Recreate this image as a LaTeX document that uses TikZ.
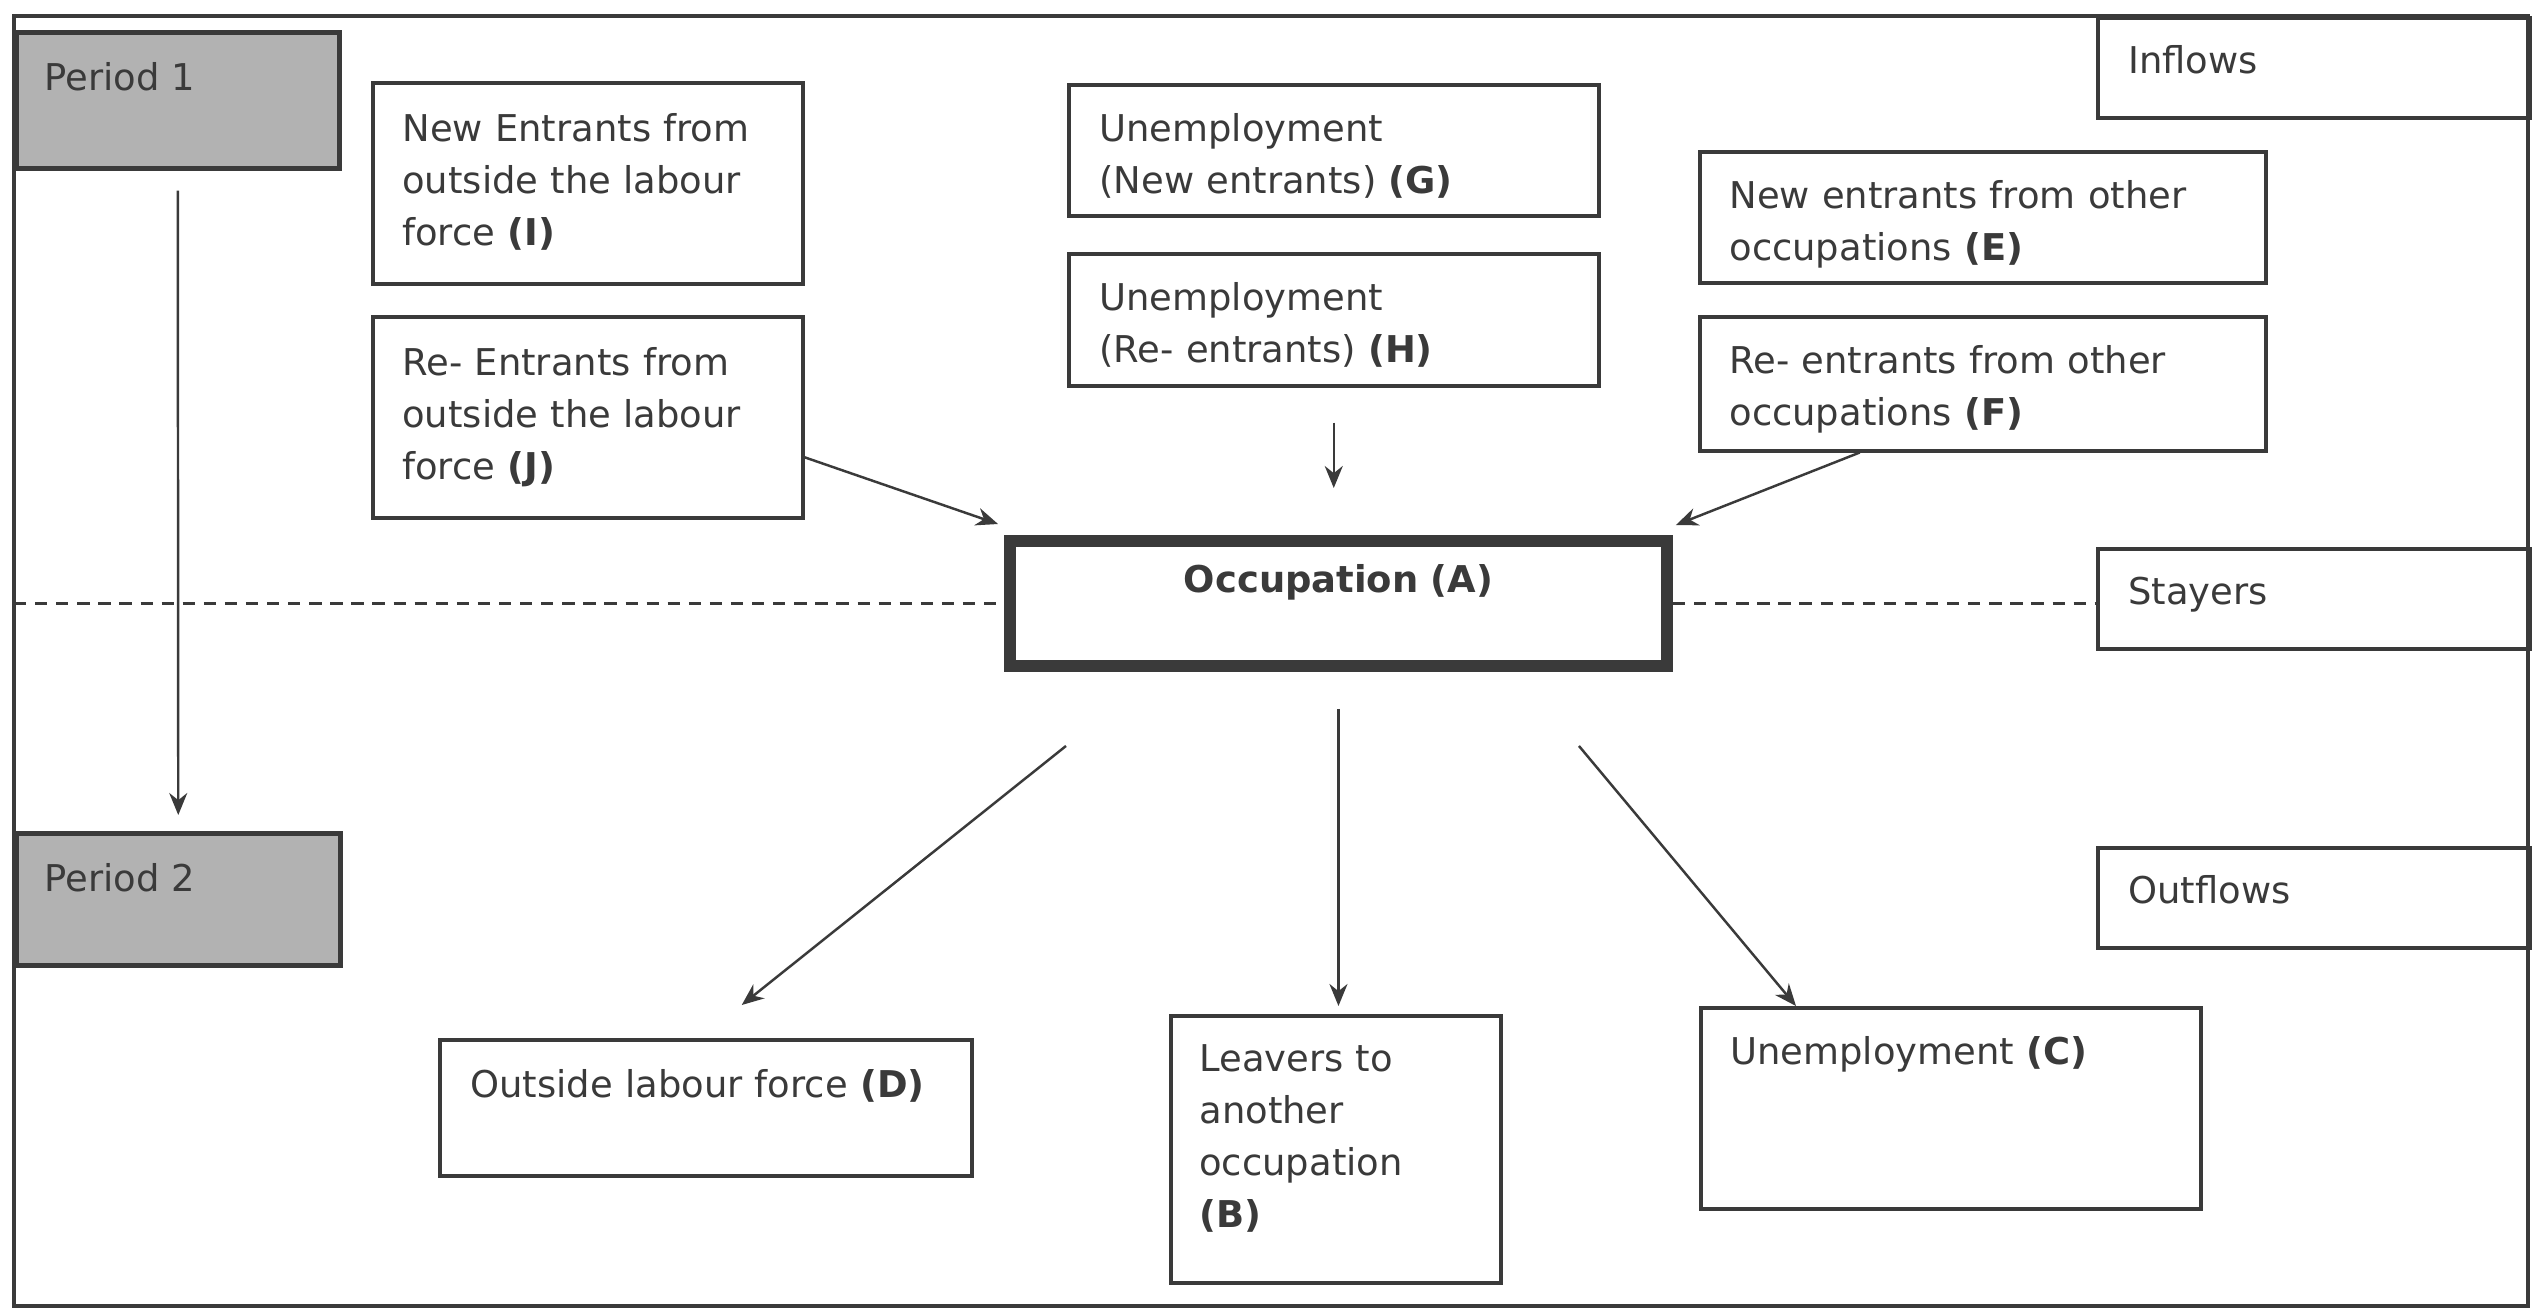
\documentclass[tikz,border=0pt]{standalone}
\usepackage{fontspec}
\setmainfont{DejaVu Sans}
\usetikzlibrary{calc,arrows.meta}
\definecolor{ink}{HTML}{3A3A3A}

\begin{document}
\begin{tikzpicture}[line width=0.8pt,
	box/.style={draw=ink, line width=1pt, anchor=north west, inner sep=0pt},
	period/.style={box, fill=gray!60, line width=1.3pt},
	txt/.style={anchor=base west, inner sep=0pt, text=ink, align=left, text width=6cm,
		font=\fontsize{10.5pt}{14.8pt}\selectfont},
	ctxt/.style={txt, anchor=base, align=center},
	flow/.style={draw=ink, line width=0.7pt, -{Stealth[length=2.2mm,width=1.8mm]}},
	stayline/.style={draw=ink, line width=0.8pt, dash pattern=on 3.5pt off 2.5pt}]

\useasboundingbox (0,0) rectangle (25.42,-13.10);
\fill[white] (0,0) rectangle (25.42,-13.10);

%frame
\draw[ink, line width=0.9pt] (0.14,-0.16) rectangle (25.28,-13.06);

%periods
\node[period, minimum width=3.23cm, minimum height=1.36cm] (P1) at (0.14,-0.30) {};
\node[txt] (P1t) at ($(P1.north west)+(0.29,-0.60)$) {Period 1};
\node[period, minimum width=3.24cm, minimum height=1.32cm] (P2) at (0.14,-8.31) {};
\node[txt] (P2t) at ($(P2.north west)+(0.29,-0.60)$) {Period 2};
\draw[flow, shorten <=0.2cm, shorten >=0.16cm] (P1.south) -- (P2.north);

%right column
\foreach \n/\y/\t in {inflow/0.16/Inflows, stay/5.47/Stayers, outflow/8.46/Outflows}{
	\node[box, minimum width=4.32cm, minimum height=1.0cm] (\n) at (20.96,-\y) {};
	\node[txt] (\n-t) at ($(\n.north west)+(0.31,-0.57)$) {\t};
}

%inflows
\node[box, minimum width=4.30cm, minimum height=2.01cm] (I) at (3.71,-0.81) {};
\node[txt] (I-t) at ($(I.north west)+(0.30,-0.60)$) {New Entrants from\\outside the labour\\force \textbf{(I)}};

\node[box, minimum width=4.30cm, minimum height=2.01cm] (J) at (3.71,-3.15) {};
\node[txt] (J-t) at ($(J.north west)+(0.30,-0.60)$) {Re- Entrants from\\outside the labour\\force \textbf{(J)}};

\node[box, minimum width=5.30cm, minimum height=1.31cm] (G) at (10.67,-0.83) {};
\node[txt] (G-t) at ($(G.north west)+(0.31,-0.58)$) {Unemployment\\(New entrants) \textbf{(G)}};

\node[box, minimum width=5.30cm, minimum height=1.32cm] (H) at (10.67,-2.52) {};
\node[txt] (H-t) at ($(H.north west)+(0.31,-0.58)$) {Unemployment\\(Re- entrants) \textbf{(H)}};

\node[box, minimum width=5.66cm, minimum height=1.31cm] (E) at (16.98,-1.50) {};
\node[txt] (E-t) at ($(E.north west)+(0.30,-0.58)$) {New entrants from other\\occupations \textbf{(E)}};

\node[box, minimum width=5.66cm, minimum height=1.34cm] (F) at (16.98,-3.15) {};
\node[txt] (F-t) at ($(F.north west)+(0.30,-0.58)$) {Re- entrants from other\\occupations \textbf{(F)}};

%occupation
\node[box, line width=3.4pt, minimum width=6.57cm, minimum height=1.25cm] (A) at (10.04,-5.35) {};
\node[ctxt] (A-t) at ($(A.north)+(0,-0.57)$) {\textbf{Occupation (A)}};

\coordinate (left) at (0.14,-6.00);
\draw[stayline] (A.west -| left) -- (A.west);
\draw[stayline] (A.east) -- (A.east -| stay.west);

%outflows
\node[box, minimum width=5.32cm, minimum height=1.36cm] (D) at (4.38,-10.38) {};
\node[txt] (D-t) at ($(D.north west)+(0.31,-0.59)$) {Outside labour force \textbf{(D)}};

\node[box, minimum width=3.30cm, minimum height=2.67cm] (B) at (11.69,-10.14) {};
\node[txt] (B-t) at ($(B.north west)+(0.29,-0.57)$) {Leavers to\\another\\occupation\\\textbf{(B)}};

\node[box, minimum width=5.00cm, minimum height=2.01cm] (C) at (16.99,-10.06) {};
\node[txt] (C-t) at ($(C.north west)+(0.30,-0.58)$) {Unemployment \textbf{(C)}};

%arrows in
\draw[flow] ([yshift=-0.40cm]J.east) -- ([xshift=-0.06cm,yshift=0.11cm]A.north west);
\draw[flow, shorten <=0.35cm, shorten >=0.47cm] (H.south) -- (H.south |- A.north);
\draw[flow] ([xshift=-1.23cm]F.south) -- ([xshift=0.03cm,yshift=0.10cm]A.north east);

%arrows out
\draw[flow] ([xshift=0.62cm,yshift=-0.74cm]A.south west) -- ([xshift=0.36cm,yshift=0.33cm]D.north);
\draw[flow, shorten <=0.37cm, shorten >=0.08cm] (A.south) -- (A.south |- B.north);
\draw[flow] ([xshift=-0.94cm,yshift=-0.74cm]A.south east) -- ([xshift=0.97cm]C.north west);

\end{tikzpicture}
\end{document}
